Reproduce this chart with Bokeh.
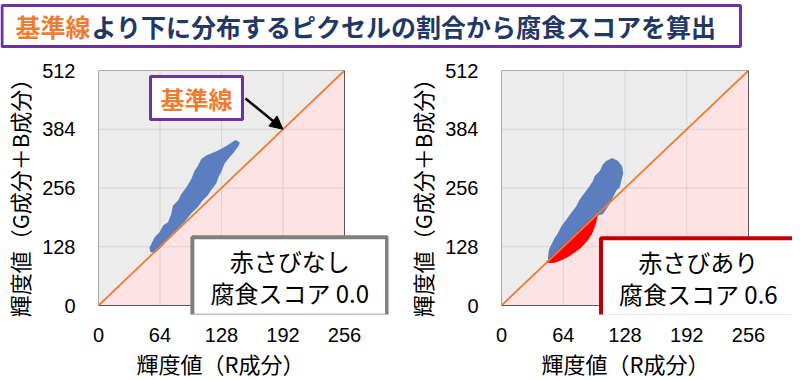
from bokeh.plotting import figure
from bokeh.models import FixedTicker, Label, BoxAnnotation, Arrow, NormalHead, Range1d, Title
from bokeh.layouts import column, row
from bokeh.embed import file_html
from bokeh.resources import INLINE

JP = "Noto Sans CJK JP"
NUM = "Liberation Sans"

# ---- data -------------------------------------------------------------
x_ticks = [0, 64, 128, 192, 256]
y_ticks = [0, 128, 256, 384, 512]
x_tick_labels = ["0", "64", "128", "192", "256"]
y_tick_labels = ["0", "128", "256", "384", "512"]

# reference line (基準線): G+B = 2R
ref_x = [0, 256]
ref_y = [0, 512]

# left panel: pixel cloud outline (赤さびなし), all above the reference line
left_blue_x = [54.1, 55.9, 59.3, 64.5, 68.0, 73.2, 76.7, 78.4, 83.6, 87.1, 92.3, 97.5,
               100.9, 104.4, 107.9, 113.1, 121.7, 128.7, 135.6, 142.6, 146.0, 144.3,
               139.1, 134.5, 130.4, 126.9, 124.2, 121.7, 116.5, 113.1, 107.9, 102.7,
               95.7, 88.8, 81.9, 73.2, 66.3, 59.3, 54.8]
left_blue_y = [125.7, 132.9, 147.5, 158.4, 172.8, 180.2, 198.3, 216.3, 227.2, 241.8,
               256.4, 274.5, 292.6, 303.5, 318.1, 325.3, 332.7, 339.9, 348.6, 358.0,
               354.4, 347.1, 332.7, 321.8, 310.9, 292.6, 281.7, 267.3, 252.7, 241.8,
               230.9, 216.3, 202.0, 183.7, 169.3, 151.0, 132.9, 118.3, 118.3]

# right panel: pixels above the line (blue) and below the line (red, 赤さび)
right_blue_x = [49.1, 50.1, 52.5, 56.0, 59.4, 62.9, 68.1, 73.2, 78.4, 81.9, 87.0, 92.2,
                95.6, 97.4, 102.6, 106.0, 109.5, 114.7, 119.9, 124.0, 125.1, 123.3,
                121.6, 118.1, 114.7, 111.2, 107.8, 104.3, 100.8]
right_blue_y = [102.1, 120.4, 131.3, 145.9, 156.9, 171.3, 186.0, 200.6, 215.2, 229.8,
                244.4, 258.9, 269.8, 280.7, 291.7, 306.3, 313.6, 318.8, 313.6, 302.6,
                288.2, 273.5, 258.9, 251.6, 237.0, 222.5, 211.6, 200.6, 199.1]
right_red_x = [47.4, 54.2, 61.1, 68.1, 74.9, 81.9, 88.8, 92.9, 95.0, 97.4, 98.4, 97.5]
right_red_y = [94.8, 94.8, 99.9, 107.2, 116.7, 127.6, 143.7, 156.9, 167.8, 182.3, 194.7, 195.0]

# ---- styling ----------------------------------------------------------
BG = "#ECECEC"
PINK = "#FFE2E3"
ORANGE = "#ED7D31"
BLUE = "#5B7EC0"
RED = "#FF0000"
NAVY = "#1F3864"
PURPLE = "#7030A0"
FRAME = "#595959"

Y_LOW = -19.6   # frame extends a little below 0 so the score box is not clipped


def make_panel(border_left, frame_w, border_right, x_max, label_offset):
    p = figure(x_range=Range1d(x_ticks[0], x_max),
               y_range=Range1d(Y_LOW, y_ticks[-1]),
               output_backend="svg", toolbar_location=None,
               frame_width=frame_w, frame_height=244,
               min_border_left=border_left, min_border_right=border_right,
               min_border_top=22, min_border_bottom=57)
    p.background_fill_color = "white"
    p.border_fill_color = "white"
    p.outline_line_color = None
    p.grid.visible = False

    # plotting square (gray) and region below the reference line (pink)
    p.quad(left=x_ticks[0], right=x_ticks[-1], bottom=y_ticks[0], top=y_ticks[-1],
           fill_color=BG, line_color=None, level="image")
    p.patch([ref_x[0], ref_x[1], ref_x[1]], [ref_y[0], ref_y[0], ref_y[1]],
            fill_color=PINK, line_color=None, level="image")
    # grid lines
    p.segment(x0=x_ticks[1:-1], y0=[y_ticks[0]] * 3, x1=x_ticks[1:-1], y1=[y_ticks[-1]] * 3,
              line_color="#b8b8b8", line_alpha=0.45, line_width=1, level="underlay")
    p.segment(x0=[x_ticks[0]] * 3, y0=y_ticks[1:-1], x1=[x_ticks[-1]] * 3, y1=y_ticks[1:-1],
              line_color="#b8b8b8", line_alpha=0.45, line_width=1, level="underlay")

    p.xaxis.ticker = FixedTicker(ticks=x_ticks)
    p.yaxis.ticker = FixedTicker(ticks=y_ticks)
    p.xaxis.major_label_overrides = dict(zip(x_ticks, x_tick_labels))
    p.yaxis.major_label_overrides = dict(zip(y_ticks, y_tick_labels))

    for ax in (p.xaxis, p.yaxis):
        ax.axis_line_color = None
        ax.major_tick_line_color = None
        ax.minor_tick_line_color = None
        ax.major_label_text_font = NUM
        ax.major_label_text_font_size = "20px"
        ax.major_label_text_color = "black"
        ax.axis_label_text_font = JP
        ax.axis_label_text_font_size = "22px"
        ax.axis_label_text_font_style = "normal"
        ax.axis_label_text_color = "black"
    p.xaxis.major_label_standoff = 7
    p.yaxis.major_label_standoff = 17
    p.yaxis.axis_label_standoff = 4
    p.yaxis.axis_label = "輝度値（G成分＋B成分）"
    p.add_layout(Title(text="輝度値（R成分）", align="left", offset=label_offset,
                       standoff=0, text_font=JP, text_font_size="22px",
                       text_font_style="normal", text_color="black"), "below")
    return p


def finish(p):
    p.line(ref_x, ref_y, line_color=ORANGE, line_width=1.8)
    p.quad(left=x_ticks[0], right=x_ticks[-1], bottom=y_ticks[0], top=y_ticks[-1],
           fill_color=None, line_color=FRAME, line_width=1)


def score_label(text, cx, cy, color):
    return Label(x=cx, y=cy, text=text,
                 text_align="center", text_baseline="middle", text_line_height=0.9,
                 text_font=JP, text_font_size="24px", text_color="black",
                 background_fill_color="white",
                 border_line_color=color, border_line_width=4,
                 padding=dict(left=18, right=18, top=6, bottom=6))


# left panel
p1 = make_panel(90, 290, 12, 301.8, 38)
p1.patch(left_blue_x, left_blue_y, fill_color=BLUE, line_color=BLUE, line_width=2)
finish(p1)
p1.add_layout(Arrow(end=NormalHead(size=13, fill_color="black", line_color="black"),
                    x_start=153, y_start=451, x_end=ref_x[1] * 0.75, y_end=ref_y[1] * 0.75,
                    line_color="black", line_width=2.5))
p1.add_layout(Label(x=102, y=452, text="基準線", text_align="center", text_baseline="middle",
                    text_font=JP, text_font_size="24px", text_font_style="bold",
                    text_color=ORANGE, background_fill_color="white",
                    border_line_color=PURPLE, border_line_width=3,
                    padding=dict(left=10, right=10, top=4, bottom=4)))
p1.add_layout(score_label("赤さびなし\n腐食スコア 0.0", 199, 63, "#7F7F7F"))

# right panel
p2 = make_panel(101, 291, 0, 301.6, 40)
p2.patch(right_blue_x, right_blue_y, fill_color=BLUE, line_color=BLUE, line_width=2)
p2.patch(right_red_x, right_red_y, fill_color=RED, line_color=RED, line_width=2)
finish(p2)
p2.add_layout(score_label("赤さびあり\n腐食スコア 0.6", 204, 61, "#C00000"))

# title strip
t = figure(width=784, height=48, x_range=Range1d(0, 784), y_range=Range1d(0, 48),
           output_backend="svg", toolbar_location=None, min_border=0)
t.axis.visible = False
t.grid.visible = False
t.outline_line_color = None
t.add_layout(BoxAnnotation(left=1.5, right=740, bottom=2, top=43, fill_color="white",
                           fill_alpha=1, line_color=PURPLE, line_alpha=1, line_width=3))
t.add_layout(Label(x=15, y=22.5, text="基準線", text_baseline="middle", text_align="left",
                   text_font=JP, text_font_size="25px", text_font_style="bold",
                   text_color=ORANGE))
t.add_layout(Label(x=91, y=22.5, text="より下に分布するピクセルの割合から腐食スコアを算出",
                   text_baseline="middle", text_align="left",
                   text_font=JP, text_font_size="25px", text_font_style="bold",
                   text_color=NAVY))

layout = column(t, row(p1, p2, spacing=0), spacing=0)
open("out.html", "w").write(file_html(layout, INLINE))
